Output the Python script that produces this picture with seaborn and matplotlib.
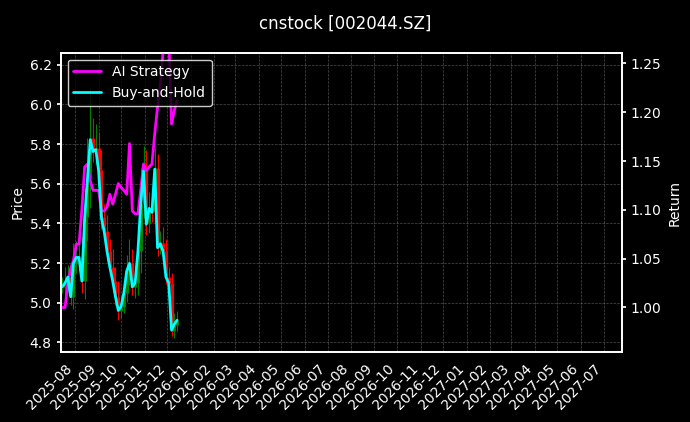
import matplotlib
matplotlib.use("Agg")
import matplotlib.pyplot as plt
import matplotlib.dates as mdates
import seaborn as sns
import pandas as pd
import numpy as np

sns.set_theme(style="dark")
plt.rcParams['font.family'] = ['DejaVu Sans']

close = [5.08, 5.10, 5.13, 5.03, 5.20, 5.23, 5.23, 5.11, 5.43, 5.63, 5.83, 5.77, 5.78,
         5.67, 5.43, 5.36, 5.26, 5.18, 5.11, 5.03, 4.96, 4.98, 5.05, 5.16, 5.20, 5.08,
         5.10, 5.26, 5.50, 5.67, 5.40, 5.48, 5.46, 5.68, 5.28, 5.30, 5.26, 5.13, 5.10,
         4.86, 4.89, 4.91]
wick = [0.05, 0.08, 0.06, 0.07, 0.10, 0.08, 0.12, 0.10, 0.15, 0.20, 0.25, 0.10, 0.12,
        0.08, 0.10, 0.07, 0.08, 0.06, 0.09, 0.07, 0.08, 0.06, 0.05, 0.08, 0.12, 0.07,
        0.09, 0.10, 0.18, 0.12, 0.10, 0.08, 0.09, 0.10, 0.07, 0.06, 0.08, 0.06, 0.05,
        0.05, 0.06, 0.05]
ai_ret = [1.000, 1.000, 1.024, 1.040, 1.048, 1.065, 1.065, 1.100, 1.144, 1.147, 1.130,
          1.120, 1.120, 1.120, 1.099, 1.099, 1.103, 1.116, 1.106, 1.116, 1.127, 1.123,
          1.120, 1.116, 1.168, 1.099, 1.096, 1.096, 1.120, 1.147, 1.140, 1.144, 1.147,
          1.178, 1.205, 1.229, 1.263, 1.275, 1.280, 1.188, 1.202, 1.212]
base_price = 4.975

dates = pd.date_range("2025-07-15", "2025-12-14", periods=len(close))
opens = [close[0]] + close[:-1]
df = pd.DataFrame({"date": dates, "close": close, "open": opens,
                   "ai": ai_ret, "bh": np.array(close) / base_price})
df["high"] = df[["open", "close"]].max(axis=1) + np.array(wick)
df["low"] = df[["open", "close"]].min(axis=1) - np.array(wick) * 0.6

fig = plt.figure(figsize=(6.9, 4.22), dpi=100, facecolor="black")
ax = fig.add_axes([0.088, 0.165, 0.813, 0.71])
ax.set_facecolor("black")
up = df["close"] >= df["open"]
cols = np.where(up, "green", "red")
ax.vlines(df["date"], df["low"], df["high"], colors=cols, linewidth=0.8)
ax.vlines(df["date"], df["open"], df["close"], colors=cols, linewidth=2.2)
ax.set_ylim(4.75, 6.26)
ax.set_xlim(pd.Timestamp("2025-07-13"), pd.Timestamp("2027-07-25"))
ax.set_ylabel("Price", color="white", fontsize=10)

ax2 = ax.twinx()
sns.lineplot(data=df, x="date", y="ai", ax=ax2, color="magenta", linewidth=2, label="AI Strategy")
sns.lineplot(data=df, x="date", y="bh", ax=ax2, color="cyan", linewidth=2, label="Buy-and-Hold")
ax2.set_ylim(0.954, 1.261)
ax2.set_ylabel("Return", color="white", fontsize=10)
ax2.set_xlabel("")
ax2.set_yticks([1.00, 1.05, 1.10, 1.15, 1.20, 1.25])

ax.xaxis.set_major_locator(mdates.MonthLocator())
ax.xaxis.set_major_formatter(mdates.DateFormatter("%Y-%m"))
for a in (ax, ax2):
    a.tick_params(colors="white", labelsize=10, length=3)
    for s in a.spines.values():
        s.set_color("white")
plt.setp(ax.get_xticklabels(), rotation=45, ha="right")
ax.grid(True, color="gray", linestyle="--", linewidth=0.5, alpha=0.6)

leg = ax2.legend(loc="upper left", facecolor="black", edgecolor="white", fontsize=10)
for t in leg.get_texts():
    t.set_color("white")
fig.suptitle("cnstock [002044.SZ]", color="white", fontsize=12, y=0.965)
fig.savefig("out.png", dpi=100, facecolor="black")
